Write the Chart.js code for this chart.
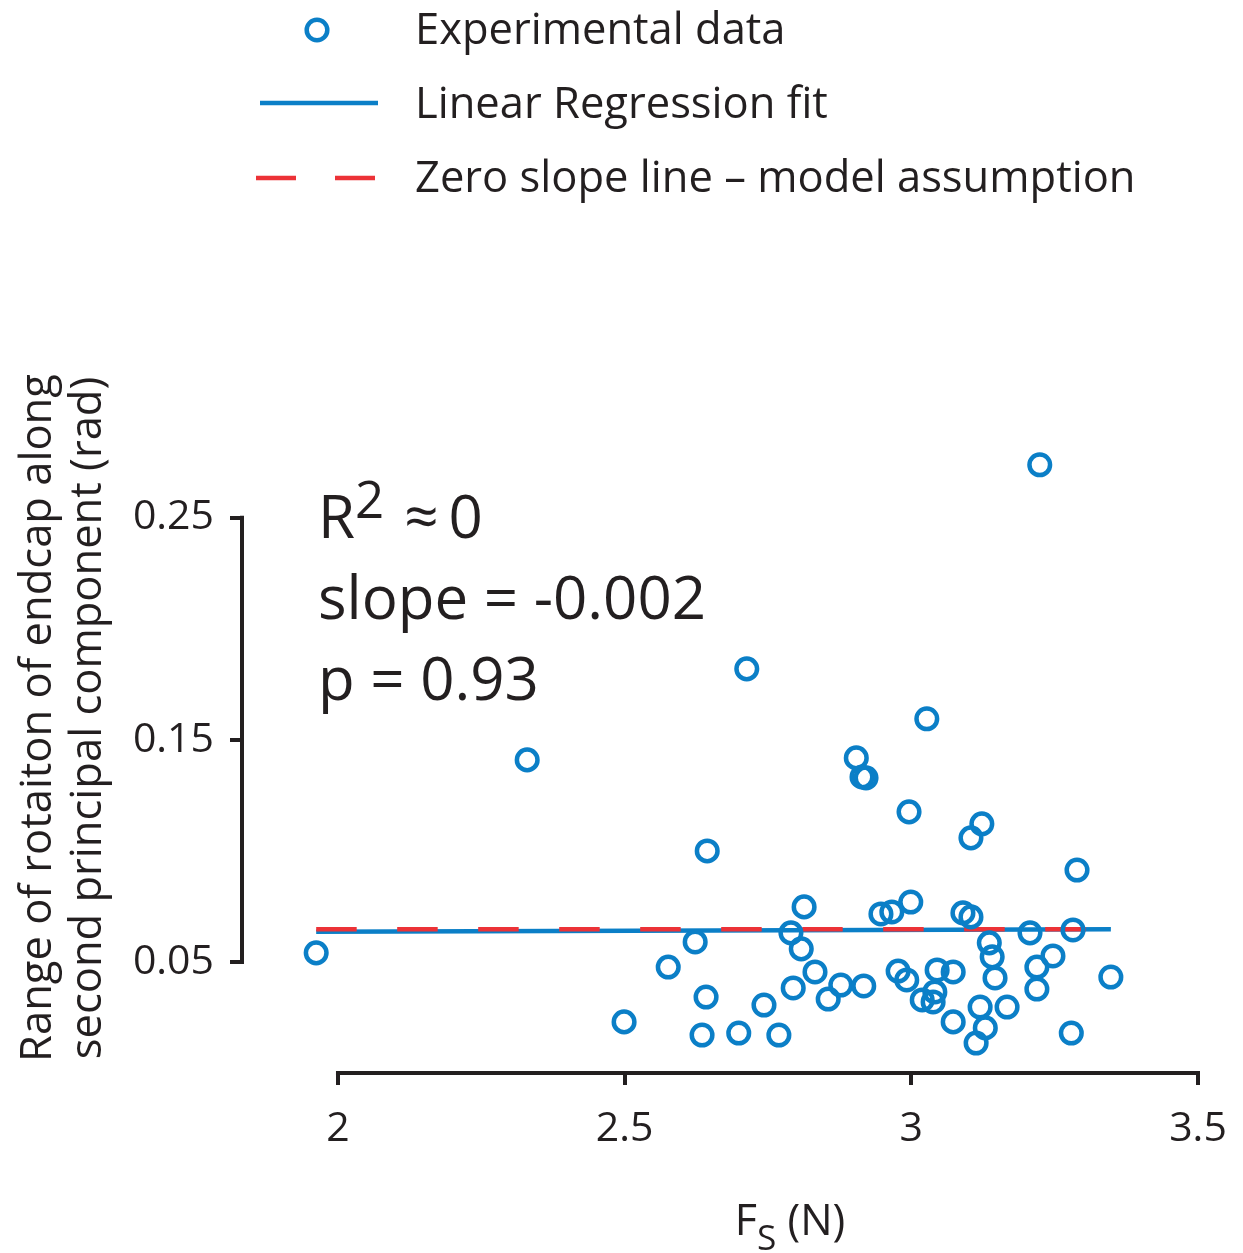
<!DOCTYPE html>
<html>
<head>
<meta charset="utf-8">
<script src="https://cdn.jsdelivr.net/npm/chart.js@4.4.1/dist/chart.umd.min.js"></script>
<style>
  html, body { margin: 0; padding: 0; background: #ffffff; }
  #wrap { position: relative; width: 1243px; height: 1253px; overflow: hidden; font-family: "Open Sans", "DejaVu Sans", sans-serif; color: #231f20; }
  #c { position: absolute; left: 0; top: 0; }
  .leg { position: absolute; left: 415px; font-size: 43.5px; line-height: 60px; white-space: nowrap; }
  #legsvg { position: absolute; left: 0; top: 0; }
  #ytitle { position: absolute; left: -340px; top: 668px; width: 800px; height: 100px; font-size: 43.5px; line-height: 50px; text-align: center; white-space: pre; transform: rotate(-90deg); transform-origin: 400px 50px; }
  #xtitle { position: absolute; left: 590px; top: 1189px; width: 400px; font-size: 43px; line-height: 60px; text-align: center; white-space: nowrap; }
  #xtitle sub { font-size: 0.82em; vertical-align: -0.42em; line-height: 0; }
  #annot { position: absolute; left: 318px; top: 475px; font-size: 60px; line-height: 81px; white-space: nowrap; }
  #annot sup { font-size: 0.85em; vertical-align: 0.4em; line-height: 0; margin-right: 20px; }
  #annot .ap { margin-right: 10px; }
</style>
</head>
<body>
<div id="wrap">
  <canvas id="c" width="1243" height="1253"></canvas>
  <svg id="legsvg" width="420" height="220" xmlns="http://www.w3.org/2000/svg">
    <circle cx="317" cy="30" r="10.3" fill="none" stroke="#0b7fc7" stroke-width="4.5"/>
    <line x1="260" y1="103" x2="378" y2="103" stroke="#0b7fc7" stroke-width="4.5"/>
    <line x1="256" y1="178" x2="296" y2="178" stroke="#ec3237" stroke-width="4.5"/>
    <line x1="335" y1="178" x2="375" y2="178" stroke="#ec3237" stroke-width="4.5"/>
  </svg>
  <div class="leg" id="leg0" style="top:-2px;"></div>
  <div class="leg" id="leg1" style="top:72px;"></div>
  <div class="leg" id="leg2" style="top:146px;"></div>
  <div id="annot">R<sup>2</sup><span class="ap">≈</span>0<br>slope = -0.002<br>p = 0.93</div>
  <div id="ytitle"></div>
  <div id="xtitle">F<sub>S</sub> (N)</div>
</div>
<script>
// ---------------- data ----------------
const legendLabels = ['Experimental data', 'Linear Regression fit', 'Zero slope line \u2013 model assumption'];
const yTitleLines = ['Range of rotaiton of endcap along', 'second principal component (rad)'];

const xTicks = [2, 2.5, 3, 3.5];
const xTickLabels = ['2', '2.5', '3', '3.5'];
const yTicks = [0.05, 0.15, 0.25];
const yTickLabels = ['0.05', '0.15', '0.25'];

// Experimental data: F_s (N)
const forceValues = [
  1.962, 2.330, 2.499, 2.576, 2.623, 2.644, 2.642, 2.635, 2.699, 2.743,
  2.769, 2.713, 3.027, 2.904, 2.914, 2.921, 2.996, 3.123, 3.104, 3.289,
  3.224, 2.813, 2.790, 2.808, 2.832, 2.794, 2.855, 2.877, 2.917, 2.947,
  2.966, 2.999, 2.977, 2.992, 3.045, 3.041, 3.019, 3.038, 3.073, 3.073,
  3.090, 3.104, 3.136, 3.141, 3.146, 3.120, 3.167, 3.129, 3.113, 3.207,
  3.282, 3.247, 3.219, 3.219, 3.348, 3.279
];
// Experimental data: range of rotation (rad)
const rotationValues = [
  0.0541, 0.1410, 0.0230, 0.0477, 0.0590, 0.1000, 0.0342, 0.0171, 0.0180, 0.0306,
  0.0171, 0.1820, 0.1595, 0.1419, 0.1333, 0.1329, 0.1176, 0.1122, 0.1059, 0.0914,
  0.2739, 0.0748, 0.0631, 0.0559, 0.0455, 0.0383, 0.0333, 0.0396, 0.0392, 0.0716,
  0.0725, 0.0770, 0.0459, 0.0419, 0.0464, 0.0365, 0.0329, 0.0320, 0.0455, 0.0230,
  0.0721, 0.0703, 0.0586, 0.0523, 0.0428, 0.0297, 0.0297, 0.0203, 0.0135, 0.0631,
  0.0644, 0.0527, 0.0477, 0.0378, 0.0432, 0.0180
];
// Fitted lines (values at the smallest and largest force)
const fitValues = [0.0636, 0.0647];
const zeroSlopeValue = [0.0647, 0.0647];

// ---------------- page text ----------------
legendLabels.forEach((t, i) => { document.getElementById('leg' + i).textContent = t; });
document.getElementById('ytitle').textContent = yTitleLines.join('\n');

// ---------------- chart ----------------
const INK = '#231f20';
const BLUE = '#0b7fc7';
const RED = '#ec3237';

const xMin = Math.min(...forceValues);
const xMax = Math.max(...forceValues);

const points = forceValues.map((f, i) => ({ x: f, y: rotationValues[i] }));

const rangeFrame = {
  id: 'rangeFrame',
  afterDraw(chart) {
    const { ctx, chartArea, scales } = chart;
    const sx = scales.x, sy = scales.y;
    ctx.save();
    ctx.strokeStyle = INK;
    ctx.lineWidth = 4;
    ctx.lineCap = 'butt';
    ctx.beginPath();
    ctx.moveTo(sx.getPixelForValue(xTicks[0]) - 2, chartArea.bottom);
    ctx.lineTo(sx.getPixelForValue(xTicks[xTicks.length - 1]) + 2, chartArea.bottom);
    ctx.moveTo(chartArea.left, sy.getPixelForValue(yTicks[yTicks.length - 1]) - 2);
    ctx.lineTo(chartArea.left, sy.getPixelForValue(yTicks[0]) + 2);
    ctx.stroke();
    ctx.restore();
  }
};

new Chart(document.getElementById('c'), {
  type: 'scatter',
  data: {
    datasets: [
      {
        label: legendLabels[0],
        data: points,
        pointStyle: 'circle',
        pointRadius: 10.3,
        pointHoverRadius: 10.3,
        borderWidth: 4.5,
        borderColor: BLUE,
        backgroundColor: 'rgba(0,0,0,0)',
        order: 0
      },
      {
        label: legendLabels[2],
        type: 'line',
        data: [{ x: xMin, y: zeroSlopeValue[0] }, { x: xMax, y: zeroSlopeValue[1] }],
        borderColor: RED,
        borderWidth: 4.5,
        borderDash: [40.5, 40.5],
        pointRadius: 0,
        fill: false,
        order: 1
      },
      {
        label: legendLabels[1],
        type: 'line',
        data: [{ x: xMin, y: fitValues[0] }, { x: xMax, y: fitValues[1] }],
        borderColor: BLUE,
        borderWidth: 4.5,
        pointRadius: 0,
        fill: false,
        order: 2
      }
    ]
  },
  options: {
    responsive: false,
    devicePixelRatio: 1,
    animation: false,
    layout: { padding: { top: 429, right: 45, left: 0, bottom: 0 } },
    plugins: { legend: { display: false }, tooltip: { enabled: false } },
    scales: {
      x: {
        type: 'linear',
        min: 1.8326,
        max: 3.5,
        afterBuildTicks: (s) => { s.ticks = xTicks.map(v => ({ value: v })); },
        afterFit: (s) => { s.height = 180; s.paddingLeft = 0; s.paddingRight = 0; },
        border: { display: false },
        grid: { drawOnChartArea: false, drawTicks: true, tickLength: 12, color: INK, lineWidth: 4, tickWidth: 4 },
        ticks: {
          autoSkip: false, maxRotation: 0, padding: 20, color: INK,
          font: { family: '"Open Sans", sans-serif', size: 41 },
          callback: (v, i) => xTickLabels[i]
        }
      },
      y: {
        type: 'linear',
        min: 0,
        max: 0.29,
        afterBuildTicks: (s) => { s.ticks = yTicks.map(v => ({ value: v })); },
        afterFit: (s) => { s.width = 242; s.paddingTop = 0; s.paddingBottom = 0; },
        border: { display: false },
        grid: { drawOnChartArea: false, drawTicks: true, tickLength: 12, color: INK, lineWidth: 4, tickWidth: 4 },
        ticks: {
          autoSkip: false, padding: 16, color: INK,
          font: { family: '"Open Sans", sans-serif', size: 41 },
          callback: (v, i) => yTickLabels[i]
        }
      }
    }
  },
  plugins: [rangeFrame]
});
</script>
</body>
</html>
